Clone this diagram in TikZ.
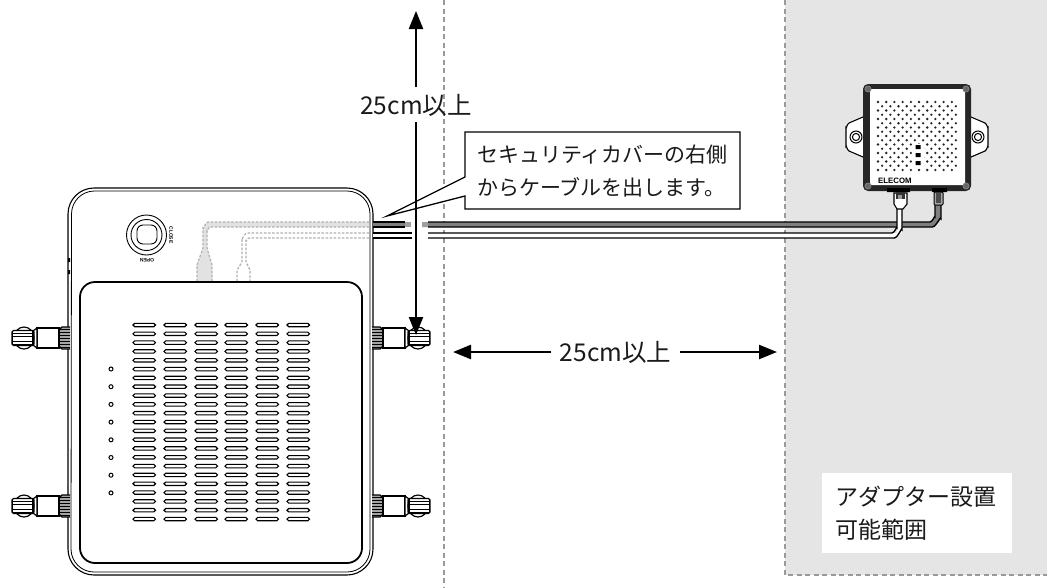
\documentclass[tikz,border=0pt]{standalone}
\usepackage{fontspec}
\setmainfont{Noto Sans CJK JP}
\newfontfamily\logofont{Liberation Sans}
\usetikzlibrary{arrows.meta}
\definecolor{zonegrey}{HTML}{E5E5E5}
\definecolor{dashgrey}{HTML}{9A9A9A}
\definecolor{ghostgrey}{HTML}{B0B0B0}
\definecolor{cablegrey}{HTML}{7F7F7F}
\definecolor{inkblack}{HTML}{1A1A1A}
\tikzset{
  zoneline/.style={draw=dashgrey,line width=1.1pt,dash pattern=on 5pt off 3.5pt},
  body/.style={draw=black,line width=1.1pt},
  panel/.style={draw=black,line width=1.8pt},
  slot/.style={draw=black,line width=1.1pt,fill=white,rounded corners=1.7pt},
  ghost/.style={draw=ghostgrey,line width=1.2pt,dash pattern=on 2.5pt off 1.6pt},
  dimline/.style={draw=black,line width=2.4pt},
  dimtip/.style={-{Triangle[length=18pt,width=14pt]}},
  dimtext/.style={font=\fontsize{24.5}{28}\selectfont,text=inkblack,inner sep=0pt},
  calltext/.style={font=\fontsize{21}{33}\selectfont,text=inkblack,inner sep=0pt,align=left,anchor=west},
  ziptext/.style={font=\fontsize{23}{33}\selectfont,text=inkblack,inner sep=0pt,align=left,anchor=west},
  knobpart/.style={draw=black,line width=1.2pt,fill=white},
  cableline/.style={draw=black,line width=1.4pt},
}
\newcommand{\knobat}[3]{%
  \begin{scope}[shift={(#1,#2)},xscale=#3]
    \fill[cablegrey!70] (0,-11) rectangle (11,11);
    \foreach \k in {-9,-6,-3,0,3,6,9} \draw[black,line width=.8pt] (0,\k) -- (10,\k);
    \draw[black,line width=1.2pt] (0,-11) -- (8,-11) -- (11,-8) -- (11,8) -- (8,11) -- (0,11);
    \draw[knobpart] (11,-10) rectangle (33,10);
    \draw[knobpart] (33,-10) -- (37,-7) -- (37,7) -- (33,10) -- cycle;
    \draw[knobpart] (46,0) ellipse (10 and 11);
    \draw[knobpart,rounded corners=1.5pt] (36,-7.5) rectangle (58,7.5);
    \draw[black,line width=.9pt] (38,-4.5) -- (57,-4.5) (38,-2) -- (57,-2) (38,3.5) -- (57,3.5) (38,6) -- (57,6);
    \draw[black,line width=1.8pt] (37,-7) -- (37,7);
    \draw[black,line width=1.8pt] (57.5,-6) -- (57.5,6);
  \end{scope}}
\begin{document}
\begin{tikzpicture}[x=1pt,y=-1pt]
\useasboundingbox (0,0) rectangle (1047,587);
\fill[white] (0,0) rectangle (1047,587);
% zones
\fill[zonegrey] (785,0) rectangle (1047,575);
\draw[zoneline] (785,0) -- (785,575) -- (1047,575);
\draw[zoneline] (444,0) -- (444,587);
% device
\draw[body,fill=white] (94,188) -- (347,188) arc[start angle=-90,end angle=0,radius=26] -- (373,549) arc[start angle=0,end angle=90,radius=26] -- (94,575) arc[start angle=90,end angle=180,radius=26] -- (68,214) arc[start angle=180,end angle=270,radius=26] -- cycle;
\draw[draw=black,line width=.8pt] (94,191) -- (347,191) arc[start angle=-90,end angle=0,radius=23] -- (370,549) arc[start angle=0,end angle=90,radius=23] -- (94,572) arc[start angle=90,end angle=180,radius=23] -- (71.5,214) arc[start angle=180,end angle=270,radius=23] -- cycle;
\fill[black] (68,258) rectangle (70,262) (68,270) rectangle (70,274);
% hidden cable routes
\fill[zonegrey!90!black!60!white] (369,222) -- (208,222) to[out=180,in=-90] (203,228) -- (203,248) -- (197,265) -- (197,281) -- (212,281) -- (212,265) -- (207,248) -- (207,231) to[out=-90,in=180] (210,227) -- (369,227) -- cycle;
\draw[ghost] (369,222) -- (208,222) to[out=180,in=-90] (203,228) -- (203,248) -- (197,265) -- (197,281);
\draw[ghost] (369,227) -- (210,227) to[out=180,in=-90] (207,231) -- (207,248) -- (212,265) -- (212,281);
\draw[ghost] (369,233) -- (247,233) to[out=180,in=-90] (242,238) -- (242,262) -- (237,270) -- (237,281);
\draw[ghost] (369,238) -- (249,238) to[out=180,in=-90] (246,241) -- (246,262) -- (250,270) -- (250,281);
% panel
\draw[panel,fill=white] (95,282) -- (347,282) arc[start angle=-90,end angle=0,radius=15] -- (362,548) arc[start angle=0,end angle=90,radius=15] -- (95,563) arc[start angle=90,end angle=180,radius=15] -- (80,297) arc[start angle=180,end angle=270,radius=15] -- cycle;
\foreach \c in {133,164,195,225,256,287}
  \foreach \r in {0,...,22}
    \draw[slot] (\c,{325+8.82*\r-1.7}) rectangle ({\c+22.5},{325+8.82*\r+1.7});
\foreach \r in {0,...,7}
  \draw[black,line width=1pt] (111,{369+17.7*\r}) circle (2);
% key lock
\draw[black,line width=.9pt] (146.5,235) circle (20) (146.5,235) circle (15.5);
\draw[black,line width=.9pt,rounded corners=6pt] (137,225) rectangle (157,244);
\node[rotate=180,inner sep=0pt,font=\logofont\bfseries\fontsize{5}{5}\selectfont] (openlabel) at (147,260) {OPEN};
\node[rotate=-90,inner sep=0pt,font=\logofont\bfseries\fontsize{5}{5}\selectfont] (closelabel) at (171,235) {CLOSE};
% knobs
\knobat{70}{338}{-1}
\knobat{70}{506}{-1}
\knobat{372}{338}{1}
\knobat{372}{506}{1}
% adapter
\draw[black,line width=1.1pt,fill=white] (863,117) -- (849,123) to[out=200,in=-90] (846,128) -- (846,146) to[out=90,in=160] (849,151) -- (863,157);
\draw[black,line width=1.1pt,fill=white] (971,117) -- (985,123) to[out=-20,in=-90] (988,128) -- (988,146) to[out=90,in=20] (985,151) -- (971,157);
\draw[black,line width=1pt] (856,137) circle (6) (856,137) circle (3.6);
\draw[black,line width=1pt] (978,137) circle (6) (978,137) circle (3.6);
\fill[black!85,rounded corners=5pt] (863,84) rectangle (971,191);
\fill[white,rounded corners=2pt] (870,89) rectangle (965,185);
\foreach \a/\b in {868/89,966/89,868/186,966/186}
  \draw[cablegrey,line width=.9pt,fill=black!60] (\a,\b) circle (3);
\foreach \r in {0,...,16}
  \pgfmathsetmacro{\off}{mod(\r,2)*4.1}
  \foreach \d in {0,...,9}
    \fill[black!85] ({878+8.2*\d+\off},{102+4.25*\r}) circle (1.3);
\fill[white] (912,144) rectangle (924,167);
\fill[black] (915.5,145) rectangle (920.5,149) (915.5,153) rectangle (920.5,157) (915.5,161) rectangle (920.5,165);
\node[inner sep=0pt,anchor=west,font=\logofont\bfseries\fontsize{7.8}{8}\selectfont] (elecom) at (878,181) {ELECOM};
\fill[black] (887,188) rectangle (910,192) (932,188) rectangle (947,192);
% cables
\fill[cablegrey] (373,222) rectangle (411,227);
\fill[cablegrey!75] (405,222) rectangle (411,227);
\draw[cableline] (373,222) -- (405,222) (373,227) -- (405,227);
\fill[cablegrey] (422,222) -- (930,222) to[out=0,in=90] (935,217) -- (935,205) -- (941,205) -- (941,219) to[out=90,in=0] (932,227) -- (422,227) -- cycle;
\fill[cablegrey!75] (422,222) rectangle (428,227);
\draw[cableline] (428,222) -- (930,222) to[out=0,in=90] (935,217) -- (935,205);
\draw[cableline] (428,227) -- (932,227) to[out=0,in=90] (941,219) -- (941,205);
\fill[white] (373,233) rectangle (412,238) (428,233) rectangle (897,238);
\fill[white] (890,233) -- (897,233) -- (897,210) -- (902,210) -- (902,233) to[out=90,in=0] (895,238) -- (890,238) -- cycle;
\draw[cableline] (373,233) -- (412,233) (373,238) -- (412,238);
\draw[cableline] (428,233) -- (892,233) to[out=0,in=90] (897,228) -- (897,208);
\draw[cableline] (428,238) -- (894,238) to[out=0,in=90] (902,230) -- (902,208);
% plugs
\draw[black,line width=1.1pt,fill=white] (894,193) -- (907,193) -- (907,204) -- (903,209) -- (897,209) -- (894,204) -- cycle;
\fill[black!80] (896,192) rectangle (905,199);
\fill[white!60!black] (898,195) rectangle (902,199);
\draw[black,line width=1pt,fill=black!35,rounded corners=1pt] (934,192) rectangle (943,205);
\fill[black!70] (936,193) rectangle (941,203);
% callout
\draw[black,line width=1.3pt,fill=white] (465,132) -- (740,132) -- (740,209) -- (465,209) -- (465,196) -- (387,216) -- (465,177) -- cycle;
\node[calltext] (calltxt) at (477,171.5) {セキュリティカバーの右側\\からケーブルを出します。};
% vertical dimension
\node[dimtext] (vlabel) at (416,105) {25cm以上};
\coordinate (vtop) at (416,11);
\coordinate (vbot) at (416,335);
\coordinate (vgapa) at (416,87);
\coordinate (vgapb) at (416,122);
\draw[dimline,dimtip] (vgapa) -- (vtop);
\draw[dimline,dimtip] (vgapb) -- (vbot);
% horizontal dimension
\node[dimtext] (hlabel) at (615.5,352) {25cm以上};
\coordinate (hleft) at (453,352);
\coordinate (hright) at (777,352);
\coordinate (hgapa) at (551,352);
\coordinate (hgapb) at (680,352);
\draw[dimline,dimtip] (hgapa) -- (hleft);
\draw[dimline,dimtip] (hgapb) -- (hright);
% adapter zone label
\fill[white] (822,473) rectangle (1012,553);
\node[ziptext] (ziplabel) at (835,513.5) {アダプター設置\\可能範囲};
\end{tikzpicture}
\end{document}
